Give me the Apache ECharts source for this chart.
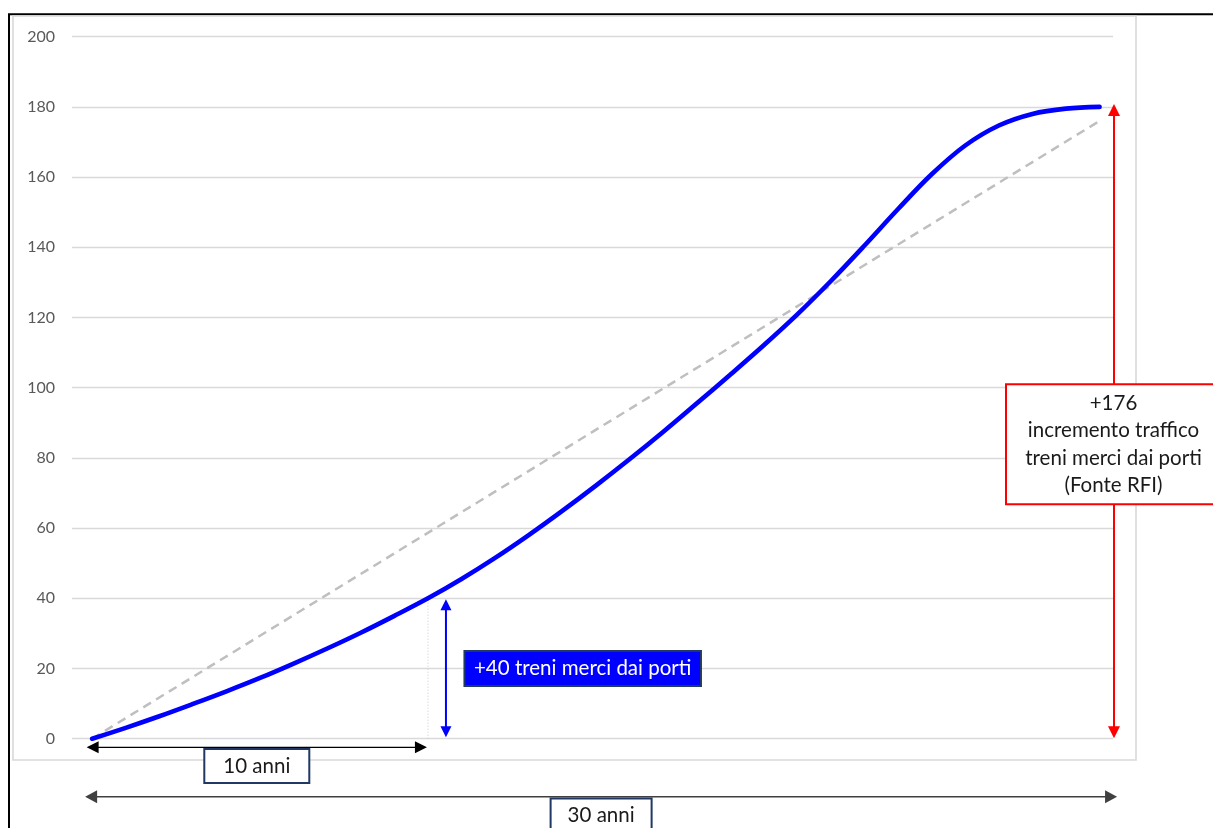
<!DOCTYPE html>
<html>
<head>
<meta charset="utf-8">
<script src="https://cdn.jsdelivr.net/npm/echarts@6/dist/echarts.min.js"></script>
<style>
  html, body { margin: 0; padding: 0; background: #ffffff; }
  #chart { width: 1213px; height: 828px; }
</style>
</head>
<body>
<div id="chart"></div>
<script>
// Years since start of the period
const years = [0, 1, 2, 3, 4, 5, 6, 7, 8, 9, 10, 11, 12, 13, 14, 15, 16, 17, 18, 19, 20,
               21, 22, 23, 24, 25, 26, 27, 28, 29, 30];
// Freight trains from the ports (S-shaped growth)
const freightTrains = [0, 3.1, 6.4, 9.9, 13.5, 17.3, 21.4, 25.7, 30.2, 35.0, 40.0,
                       45.5, 51.5, 58.0, 64.9, 72.1, 79.6, 87.4, 95.5, 103.7, 112.1,
                       120.9, 130.4, 140.5, 150.9, 160.8, 169.0, 174.7, 178.0, 179.5, 180.0];
// Straight trend from start to end of the period
const trendYears = [0, 30];
const trendValues = [0, 176];
// Reference point at ten years
const tenYearMark = 10;
const tenYearGain = 40;
const totalGain = 176;
// Y axis ticks
const yTicks = { min: 0, max: 200, step: 20 };

const labelFont = 'Lato, "Open Sans", sans-serif';

const chart = echarts.init(document.getElementById('chart'), null, { renderer: 'canvas' });

const curveData = years.map((y, i) => [y, freightTrains[i]]);
const trendData = trendYears.map((y, i) => [y, trendValues[i]]);
const dropData = [[tenYearMark, 0], [tenYearMark, freightTrains[years.indexOf(tenYearMark)]]];

chart.setOption({
  animation: false,
  backgroundColor: '#ffffff',
  grid: { left: 72, top: 36.7, width: 1041, height: 702, containLabel: false },
  xAxis: {
    type: 'value', min: -0.6, max: 30.4, show: false
  },
  yAxis: {
    type: 'value', min: yTicks.min, max: yTicks.max, interval: yTicks.step,
    axisLine: { show: false }, axisTick: { show: false },
    axisLabel: { color: '#595959', fontFamily: labelFont, fontSize: 16, margin: 17 },
    splitLine: { lineStyle: { color: '#d9d9d9', width: 1.3 } }
  },
  series: [
    {
      name: 'drop', type: 'line', data: dropData, symbol: 'none', z: 2,
      lineStyle: { color: '#c8c8c8', width: 1, type: [1, 2] }
    },
    {
      name: 'trend', type: 'line', data: trendData, symbol: 'none', z: 3,
      lineStyle: { color: '#bfbfbf', width: 2.5, type: [9, 6] }
    },
    {
      name: 'treni', type: 'line', data: curveData, symbol: 'none', z: 4,
      smooth: 0.35,
      lineStyle: { color: '#0000ff', width: 4.6, cap: 'round' }
    }
  ]
});

// --- annotations placed from axis values ---
const px = (x, y) => chart.convertToPixel({ gridIndex: 0 }, [x, y]);

function arrow(x1, y1, x2, y2, color, width, headLen, headHalf, both) {
  const els = [];
  const dx = x2 - x1, dy = y2 - y1;
  const len = Math.hypot(dx, dy);
  const ux = dx / len, uy = dy / len;
  const nx = -uy, ny = ux;
  const sx = both ? x1 + ux * headLen * 0.8 : x1;
  const sy = both ? y1 + uy * headLen * 0.8 : y1;
  const ex = x2 - ux * headLen * 0.8, ey = y2 - uy * headLen * 0.8;
  els.push({ type: 'line', shape: { x1: sx, y1: sy, x2: ex, y2: ey },
             style: { stroke: color, lineWidth: width }, z: 50 });
  const head = (tx, ty, dirx, diry) => ({
    type: 'polygon', z: 51,
    shape: { points: [[tx, ty],
                      [tx - dirx * headLen + nx * headHalf, ty - diry * headLen + ny * headHalf],
                      [tx - dirx * headLen - nx * headHalf, ty - diry * headLen - ny * headHalf]] },
    style: { fill: color }
  });
  els.push(head(x2, y2, ux, uy));
  if (both) els.push(head(x1, y1, -ux, -uy));
  return els;
}

function box(cx, cy, w, h, stroke, fill, lw, text, textColor, z) {
  return [
    { type: 'rect', z: z, shape: { x: cx - w / 2, y: cy - h / 2, width: w, height: h },
      style: { fill: fill, stroke: stroke, lineWidth: lw } },
    { type: 'text', z: z + 1, x: cx, y: cy,
      style: { text: text, fill: textColor, font: '20.5px ' + labelFont,
               align: 'center', verticalAlign: 'middle', lineHeight: 27.5 } }
  ];
}

const p0 = px(0, 0);
const p10 = px(tenYearMark, 0);
const p10top = px(tenYearMark, tenYearGain);
const pEnd = px(30, 0);
const pEndTop = px(30, freightTrains[freightTrains.length - 1]);
const gridRight = px(30.4, 0)[0];

const graphics = [];

// frame around the whole figure and the plot panel
graphics.push({ type: 'rect', z: 1, shape: { x: 9, y: 14.3, width: 1400, height: 1000 },
                style: { fill: null, stroke: '#000000', lineWidth: 2 } });
graphics.push({ type: 'rect', z: 1, shape: { x: 13, y: 16, width: 1123, height: 744 },
                style: { fill: null, stroke: '#d9d9d9', lineWidth: 1.6 } });

// 10-year span
const yTen = p0[1] + 8.6;
graphics.push(...arrow(p0[0] - 5.5, yTen, p10[0] - 1, yTen, '#000000', 1.3, 12, 6, true));
graphics.push(...box((p0[0] - 5.5 + p10[0] - 1) / 2, 766, 105, 34, '#1f3864', '#ffffff', 2,
                     tenYearMark + ' anni', '#1a1a1a', 60));

// 30-year span
const yThirty = p0[1] + 58;
graphics.push(...arrow(p0[0] - 7, yThirty, pEnd[0] + 17.5, yThirty, '#404040', 1.5, 12, 6.5, true));
graphics.push(...box((p0[0] - 7 + pEnd[0] + 17.5) / 2, 815.5, 101, 34, '#1f3864', '#ffffff', 2,
                     '30 anni', '#1a1a1a', 60));

// gain after ten years
const xBlue = p10[0] + 18;
graphics.push(...arrow(xBlue, p0[1] - 1.5, xBlue, p10top[1] + 1, '#0000ff', 2, 11, 5.5, true));
graphics.push(...box(582.7, 668.4, 236.5, 35, '#1f3864', '#0000ff', 2,
                     '+' + tenYearGain + ' treni merci dai porti', '#ffffff', 60));

// total gain
const xRed = gridRight + 1;
graphics.push(...arrow(xRed, p0[1] - 0.5, xRed, pEndTop[1] - 3, '#ff0000', 2, 12, 6, true));
graphics.push(...box(1113.5, 444.3, 215, 120, '#ff0000', '#ffffff', 2,
                     '+' + totalGain + '\nincremento traffico\ntreni merci dai porti\n(Fonte RFI)',
                     '#1a1a1a', 60));

chart.setOption({ graphic: graphics });
</script>
</body>
</html>
